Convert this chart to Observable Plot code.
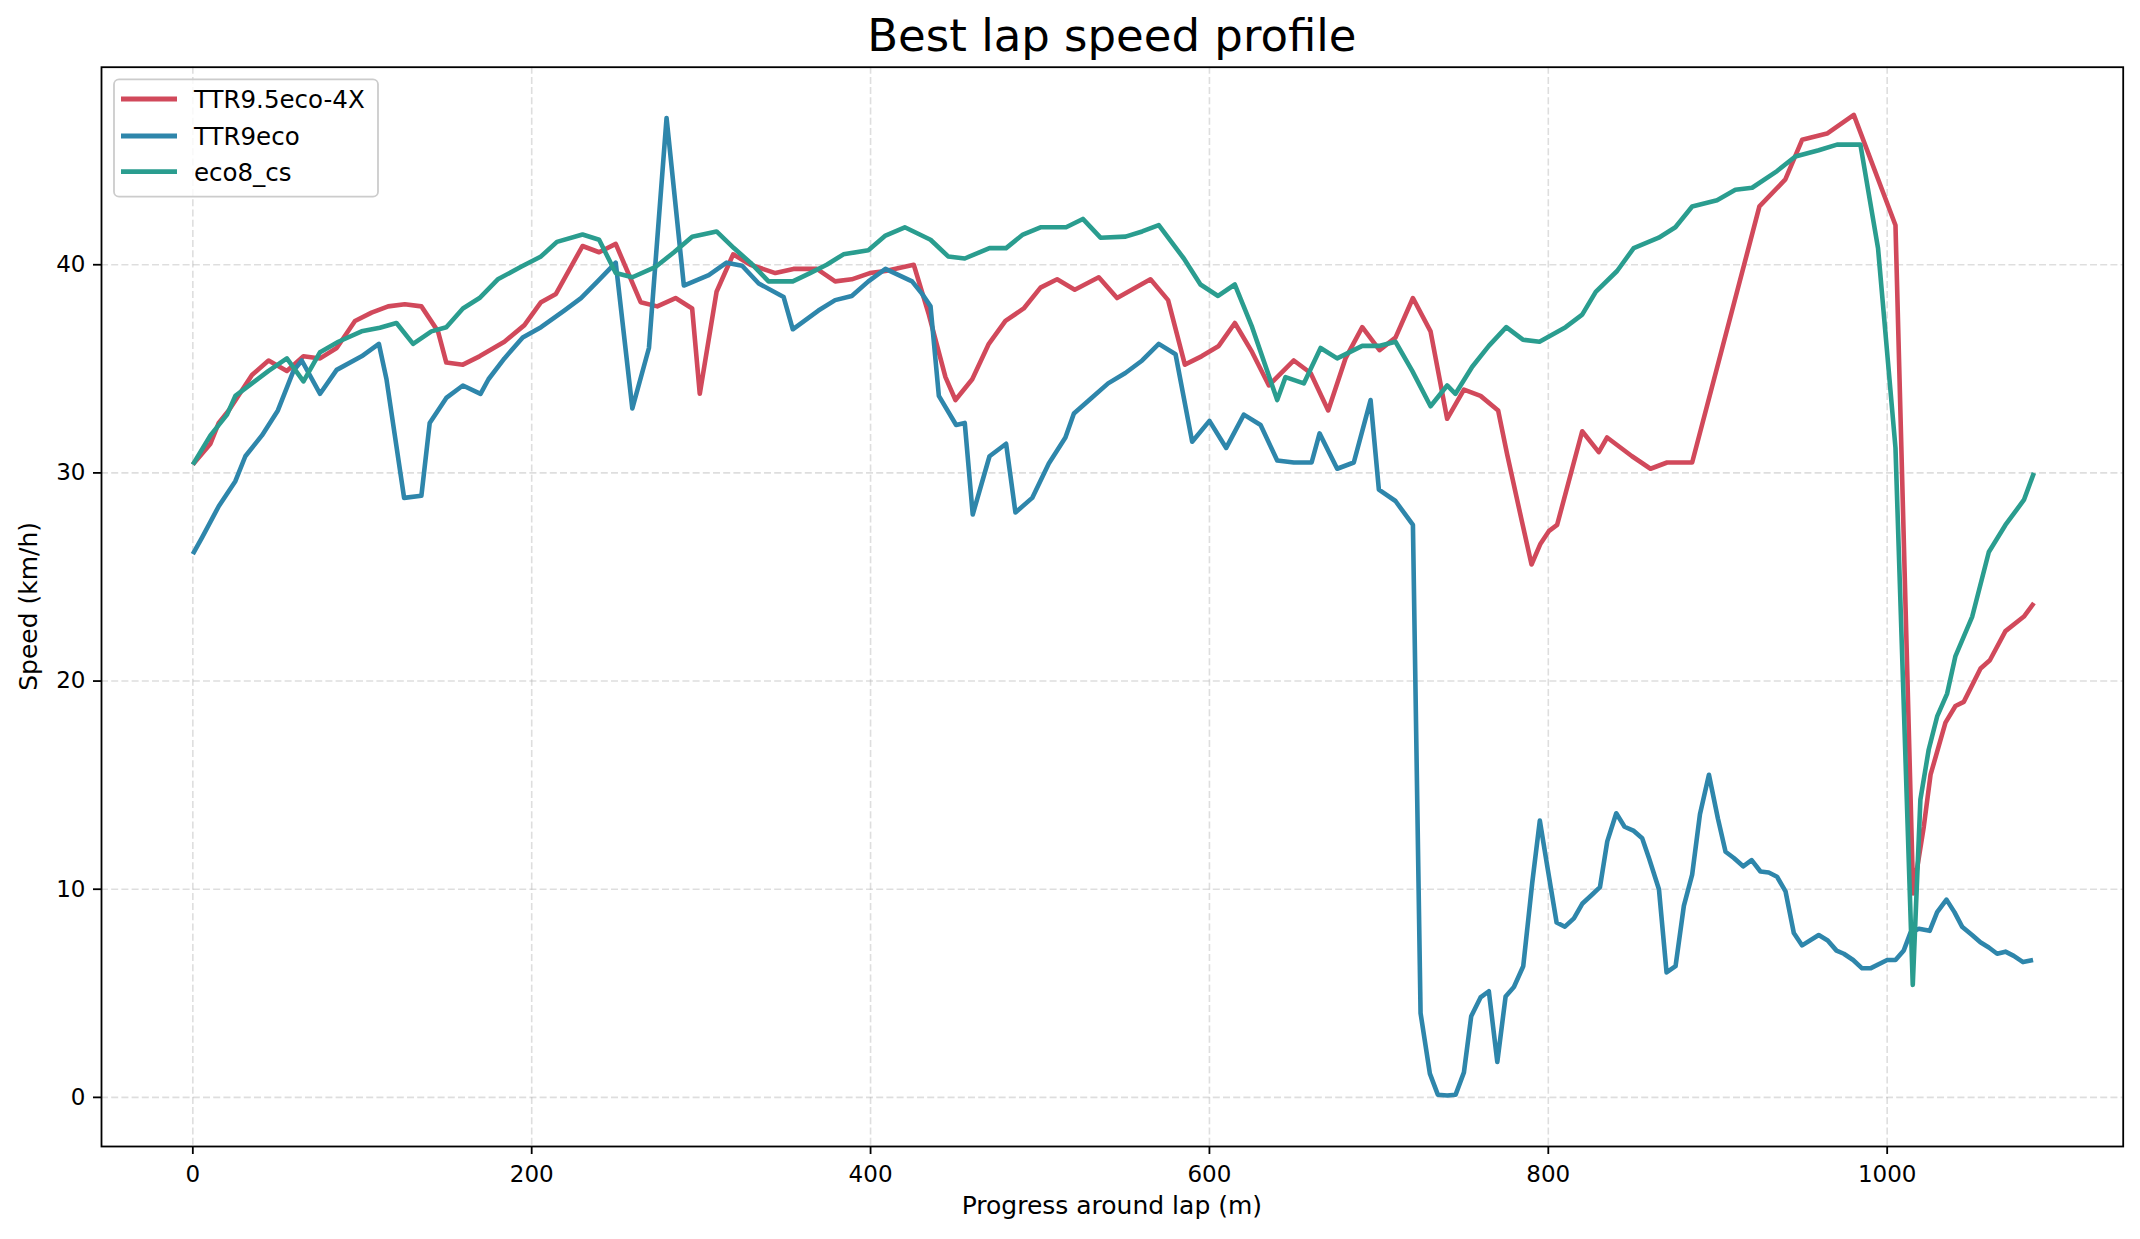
<!DOCTYPE html>
<html>
<head>
<meta charset="utf-8">
<script src="https://cdn.jsdelivr.net/npm/d3@7"></script>
<script src="https://cdn.jsdelivr.net/npm/@observablehq/plot@0.6"></script>
<style>
  html, body { margin: 0; padding: 0; background: #ffffff; }
  svg { display: block; }
</style>
</head>
<body>
<div id="chart"></div>
<script>
// ---- Data (distance m, speed km/h) ----
const seriesNames = ["TTR9.5eco-4X", "TTR9eco", "eco8_cs"];
const seriesColors = ["#d1495b", "#2e86ab", "#2a9d8f"];

const ttr95Profile = [[0,30.4],[10.4,31.4],[15.3,32.4],[21.2,33.0],[34.9,34.7],[44.7,35.4],[55.5,34.9],[65.3,35.6],[75.1,35.5],[84.9,36.0],[95.7,37.3],[105.5,37.7],[115.3,38.0],[125.1,38.1],[134.9,38.0],[144.7,36.8],[149.6,35.3],[159.4,35.2],[169.2,35.6],[183.9,36.3],[195.7,37.1],[205.5,38.2],[214.3,38.6],[230.0,40.9],[239.8,40.6],[249.6,41.0],[264.3,38.2],[274.1,38.0],[284.9,38.4],[294.7,37.9],[299.2,33.8],[309.1,38.7],[318.9,40.5],[329.1,40.0],[343.8,39.6],[354.5,39.8],[368.3,39.8],[379.1,39.2],[388.9,39.3],[399.6,39.6],[408.8,39.7],[425.5,40.0],[434.4,37.6],[444.2,34.6],[450.1,33.5],[460.0,34.5],[469.8,36.2],[479.6,37.3],[490.4,37.9],[500.3,38.9],[510.1,39.3],[520.5,38.8],[534.7,39.4],[545.5,38.4],[565.2,39.3],[575.6,38.3],[585.5,35.2],[595.3,35.6],[605.5,36.1],[615.0,37.2],[625.2,35.8],[635.1,34.2],[649.8,35.4],[659.7,34.8],[670.1,33.0],[680.3,35.5],[690.2,37.0],[700.4,35.9],[709.8,36.5],[720.1,38.4],[730.5,36.8],[740.3,32.6],[750.2,34.0],[760.0,33.7],[770.4,33.0],[775.7,30.9],[784.6,27.6],[790.1,25.6],[795.4,26.6],[800.3,27.2],[805.2,27.5],[820.0,32.0],[829.8,31.0],[834.7,31.7],[849.4,30.8],[860.3,30.2],[870.1,30.5],[884.9,30.5],[924.6,42.8],[939.9,44.1],[949.8,46.0],[964.5,46.3],[980.3,47.2],[1004.9,41.9],[1015.3,9.8],[1021.6,13.0],[1025.6,15.5],[1034.4,18.0],[1040.3,18.8],[1045.2,19.0],[1055.1,20.6],[1060.6,21.0],[1069.8,22.4],[1080.7,23.1],[1086.6,23.75]];

const ttr9Profile = [[0,26.1],[5.5,26.9],[15.3,28.4],[25.1,29.6],[31.0,30.8],[40.8,31.8],[50.2,33.0],[59.4,34.9],[64.3,35.4],[75.1,33.8],[84.9,34.95],[99.6,35.6],[109.8,36.2],[114.3,34.5],[124.7,28.8],[134.9,28.9],[139.8,32.4],[149.6,33.6],[159.4,34.2],[169.8,33.8],[174.5,34.5],[183.9,35.5],[194.7,36.5],[205.5,37.0],[219.2,37.8],[229.1,38.4],[238.9,39.2],[249.6,40.1],[259.4,33.1],[269.2,36.0],[279.6,47.05],[289.8,39.0],[304.5,39.5],[315.0,40.1],[324.2,39.95],[334.0,39.1],[348.7,38.45],[354.1,36.9],[369.2,37.8],[379.1,38.3],[388.9,38.5],[398.7,39.2],[408.8,39.8],[424.5,39.2],[430.4,38.6],[435.4,38.0],[440.3,33.7],[450.5,32.3],[455.6,32.4],[460.3,28.0],[470.2,30.8],[480.0,31.4],[485.5,28.1],[495.4,28.8],[505.2,30.45],[515.0,31.7],[520.0,32.85],[530.4,33.6],[540.2,34.3],[550.4,34.8],[560.3,35.4],[570.1,36.2],[580.0,35.7],[589.8,31.5],[600.0,32.5],[609.9,31.2],[620.3,32.8],[630.2,32.3],[640.0,30.6],[649.8,30.5],[660.3,30.5],[665.0,31.9],[675.4,30.2],[685.2,30.5],[695.1,33.5],[700.0,29.2],[709.8,28.65],[720.1,27.5],[724.6,4.05],[730.1,1.14],[734.8,0.13],[740.3,0.09],[745.3,0.13],[750.2,1.2],[754.5,3.9],[760.0,4.8],[764.9,5.1],[769.9,1.7],[774.8,4.85],[779.7,5.3],[785.2,6.3],[790.5,10.3],[795.0,13.3],[799.4,11.1],[804.9,8.4],[809.8,8.2],[815.1,8.6],[820.0,9.3],[825.3,9.7],[830.5,10.1],[834.8,12.3],[840.1,13.65],[845.0,13.0],[850.5,12.8],[855.4,12.45],[859.4,11.5],[865.3,10.0],[869.8,6.0],[875.1,6.3],[880.0,9.2],[884.9,10.7],[889.5,13.6],[894.8,15.5],[900.1,13.4],[904.6,11.8],[909.5,11.5],[915.0,11.1],[920.0,11.4],[925.2,10.85],[930.1,10.8],[935.0,10.6],[940.0,9.9],[944.9,7.9],[949.8,7.3],[959.6,7.8],[964.9,7.54],[970.1,7.05],[974.4,6.9],[979.9,6.6],[985.2,6.2],[990.1,6.2],[1000.0,6.6],[1004.9,6.6],[1009.8,7.06],[1013.7,7.9],[1018.7,8.1],[1025.1,8.0],[1029.5,8.9],[1035.0,9.5],[1039.7,8.9],[1044.2,8.2],[1050.1,7.8],[1055.0,7.45],[1060.0,7.2],[1064.9,6.9],[1069.8,7.0],[1074.7,6.8],[1080.2,6.5],[1086.1,6.6]];

const eco8Profile = [[0,30.4],[10.4,31.8],[20.2,32.8],[25.1,33.7],[34.9,34.3],[44.7,34.9],[55.5,35.5],[65.3,34.4],[75.1,35.8],[85.9,36.3],[99.6,36.8],[110.4,36.97],[120.2,37.2],[130.0,36.2],[140.8,36.8],[149.6,37.0],[159.4,37.9],[169.2,38.4],[180.0,39.3],[193.7,39.9],[205.5,40.4],[214.9,41.1],[230.0,41.45],[239.8,41.2],[249.6,39.6],[259.4,39.4],[273.2,39.9],[284.0,40.6],[294.7,41.35],[309.1,41.6],[319.3,40.8],[329.1,40.1],[339.8,39.2],[354.1,39.2],[364.3,39.6],[374.1,40.0],[384.0,40.5],[398.7,40.7],[408.8,41.4],[420.2,41.8],[435.4,41.2],[445.8,40.4],[455.6,40.3],[470.2,40.8],[480.0,40.8],[489.9,41.45],[500.3,41.8],[515.4,41.8],[525.3,42.2],[535.7,41.3],[550.5,41.35],[560.3,41.6],[570.1,41.9],[584.9,40.3],[594.7,39.05],[605.1,38.5],[615.0,39.05],[625.2,37.0],[640.0,33.5],[644.9,34.6],[655.7,34.3],[665.6,36.0],[675.4,35.5],[690.2,36.1],[700.0,36.1],[709.8,36.3],[719.7,34.9],[730.5,33.2],[740.3,34.2],[745.2,33.8],[755.1,35.1],[764.9,36.1],[775.2,37.0],[785.0,36.4],[794.8,36.3],[810.2,37.0],[820.0,37.6],[828.0,38.7],[840.6,39.7],[850.4,40.8],[865.2,41.3],[875.0,41.8],[884.9,42.8],[899.6,43.1],[910.4,43.6],[920.3,43.7],[935.0,44.5],[945.8,45.2],[959.6,45.5],[970.4,45.77],[984.2,45.77],[994.6,40.8],[1004.9,31.2],[1015.1,5.4],[1019.6,14.3],[1024.5,16.7],[1029.5,18.3],[1035.4,19.4],[1040.3,21.2],[1050.2,23.1],[1060.0,26.2],[1069.8,27.5],[1080.7,28.7],[1086.6,30.0]];

const xTicks = [0, 200, 400, 600, 800, 1000];
const yTicks = [0, 10, 20, 30, 40];

const titleText = "Best lap speed profile";
const xLabelText = "Progress around lap (m)";
const yLabelText = "Speed (km/h)";

// ---- Build long table ----
const profiles = [ttr95Profile, ttr9Profile, eco8Profile];
const rows = [];
profiles.forEach((p, i) => p.forEach(([d, v]) => rows.push({series: seriesNames[i], d, v})));

const W = 2140, H = 1239;
const mL = 101, mR = 17.3, mT = 66.7, mB = 93;
const FONT = "DejaVu Sans, Liberation Sans, sans-serif";

const chart = Plot.plot({
  width: W,
  height: H,
  marginLeft: mL,
  marginRight: mR,
  marginTop: mT,
  marginBottom: mB,
  style: {fontFamily: FONT, fontSize: "23px", color: "#000", background: "#fff", overflow: "visible"},
  x: {domain: [-53.9, 1139.3], label: null},
  y: {domain: [-2.36, 49.49], label: null},
  color: {domain: seriesNames, range: seriesColors},
  marks: [
    Plot.gridX(xTicks, {stroke: "#b0b0b0", strokeOpacity: 0.42, strokeWidth: 1.6, strokeDasharray: "7,3.2"}),
    Plot.gridY(yTicks, {stroke: "#b0b0b0", strokeOpacity: 0.42, strokeWidth: 1.6, strokeDasharray: "7,3.2"}),
    Plot.line(rows, {x: "d", y: "v", z: "series", stroke: "series", strokeWidth: 4.6, strokeLinejoin: "round", strokeLinecap: "butt"}),
    Plot.frame({stroke: "#000", strokeWidth: 1.8}),
    Plot.axisX(xTicks, {tickSize: 8, tickPadding: 11, strokeWidth: 1.8, label: null, fontSize: 23, tickFormat: d => String(d)}),
    Plot.axisY(yTicks, {tickSize: 8, tickPadding: 8, strokeWidth: 1.8, label: null, fontSize: 23, tickFormat: d => String(d)})
  ]
});

document.getElementById("chart").appendChild(chart);

const svg = d3.select(chart);

// Title
svg.append("text")
  .attr("x", (mL + (W - mR)) / 2)
  .attr("y", 51)
  .attr("text-anchor", "middle")
  .attr("font-family", FONT)
  .attr("font-size", 45)
  .attr("fill", "#000")
  .text(titleText);

// Axis labels
svg.append("text")
  .attr("x", (mL + (W - mR)) / 2)
  .attr("y", 1214)
  .attr("text-anchor", "middle")
  .attr("font-family", FONT)
  .attr("font-size", 25)
  .attr("fill", "#000")
  .text(xLabelText);

svg.append("text")
  .attr("transform", `translate(37,${(mT + (H - mB)) / 2}) rotate(-90)`)
  .attr("text-anchor", "middle")
  .attr("font-family", FONT)
  .attr("font-size", 25)
  .attr("fill", "#000")
  .text(yLabelText);

// Legend (upper left, inside axes)
const lg = svg.append("g");
lg.append("rect")
  .attr("x", 114).attr("y", 79.3)
  .attr("width", 264).attr("height", 117.4)
  .attr("rx", 5).attr("ry", 5)
  .attr("fill", "#fff").attr("fill-opacity", 0.8)
  .attr("stroke", "#cccccc").attr("stroke-width", 1.8);
const rowY = [99, 136, 171.7];
seriesNames.forEach((name, i) => {
  lg.append("line")
    .attr("x1", 121).attr("x2", 177)
    .attr("y1", rowY[i]).attr("y2", rowY[i])
    .attr("stroke", seriesColors[i]).attr("stroke-width", 4.8);
  lg.append("text")
    .attr("x", 194).attr("y", rowY[i] + 8.8)
    .attr("text-anchor", "start")
    .attr("font-family", FONT)
    .attr("font-size", 24.5)
    .attr("fill", "#000")
    .text(name);
});
</script>
</body>
</html>
